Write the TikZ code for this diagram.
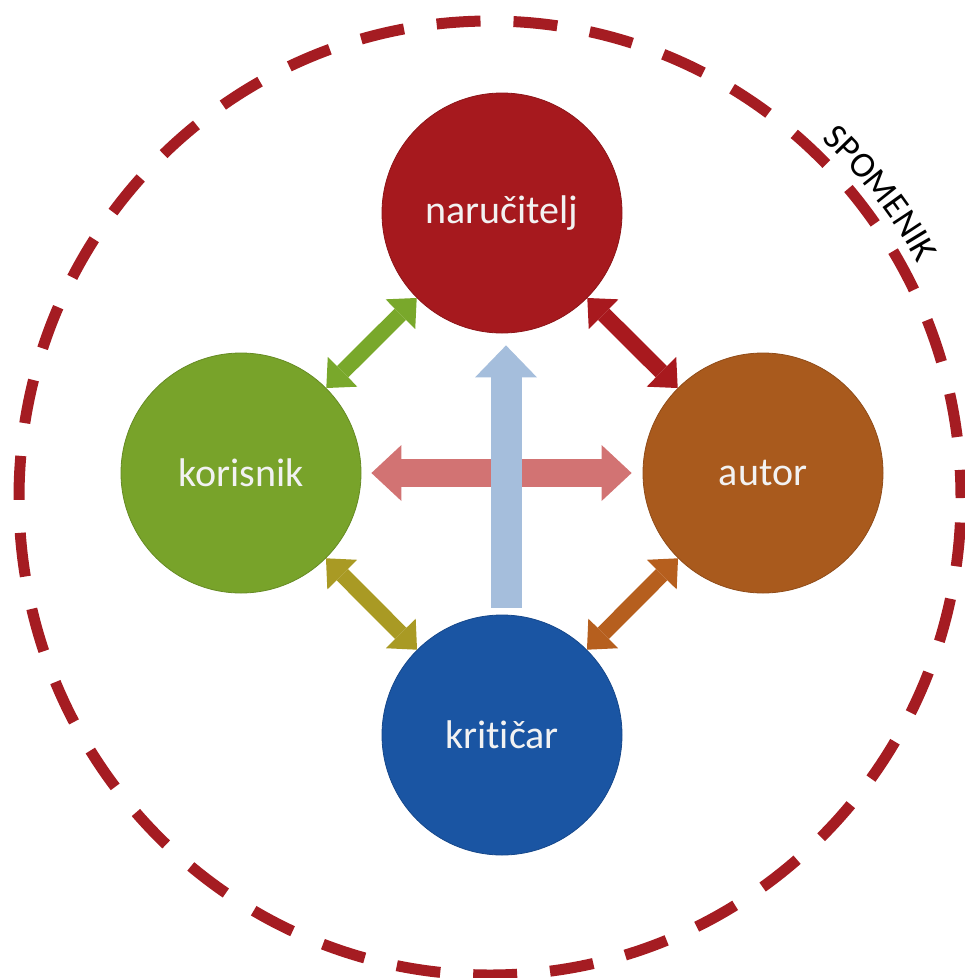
\documentclass[tikz,border=0pt]{standalone}
\usepackage{fontspec}
\setmainfont{Carlito}[Ligatures=NoCommon]
\usetikzlibrary{arrows.meta,decorations.text}

\definecolor{spomred}{HTML}{A51C22}
\definecolor{narred}{HTML}{A6191E}
\definecolor{korgreen}{HTML}{78A32A}
\definecolor{autbrown}{HTML}{A95A1D}
\definecolor{kritblue}{HTML}{1A55A3}
\definecolor{linkgreen}{HTML}{79A82B}
\definecolor{linkred}{HTML}{A8191E}
\definecolor{linkolive}{HTML}{A99A24}
\definecolor{linkorange}{HTML}{B65F1E}
\definecolor{crosspink}{HTML}{D27373}
\definecolor{crossblue}{HTML}{A5BEDC}

\begin{document}
\begin{tikzpicture}[x=1pt, y=-1pt,
    party/.style={circle, minimum size=240pt, inner sep=0pt, text=white!95!black,
      draw=#1!85!black, line width=0.8pt, fill=#1, font=\fontsize{40}{48}\selectfont},
    link/.style={line width=16pt, >={Triangle[length=23pt, width=42pt, line width=0pt]}, <->}]
  \useasboundingbox (0,0) rectangle (965,978);
  % dashed frame with its label
  \draw[spomred, line width=11pt, dash pattern=on 44pt off 33pt, dash phase=52.5pt]
    (490,498) ellipse [x radius=471, y radius=477];
  \path[decorate, decoration={text along path, text align=center,
      text={|\fontsize{36}{44}\selectfont|SPOMENIK}}]
    (490,498) ++(-53:488) arc [start angle=-53, end angle=-23, radius=488];

  \node[party=narred] (nar) at (502,213) {naručitelj};
  \node[party=korgreen] (kor) at (241,473) {korisnik};
  \node[party=autbrown] (aut) at (763,473) {autor};
  \node[party=kritblue] (krit) at (502,735) {kritičar};

  \draw[link, linkgreen] (nar) -- (kor);
  \draw[link, linkred] (nar) -- (aut);
  \draw[link, linkolive] (kor) -- (krit);
  \draw[link, linkorange] (aut) -- (krit);

  % the cross in the middle
  \draw[crosspink, line width=28pt, >={Triangle[length=30pt, width=56pt, line width=0pt]}, <->,
    shorten <=10pt, shorten >=11pt] (kor) -- (aut);
  \draw[crossblue, line width=31pt, >={Triangle[length=32pt, width=62pt, line width=0pt]}, ->,
    shorten <=7pt, shorten >=12pt] ([xshift=4pt]krit.north) -- ([xshift=4pt]nar.south);
\end{tikzpicture}
\end{document}
